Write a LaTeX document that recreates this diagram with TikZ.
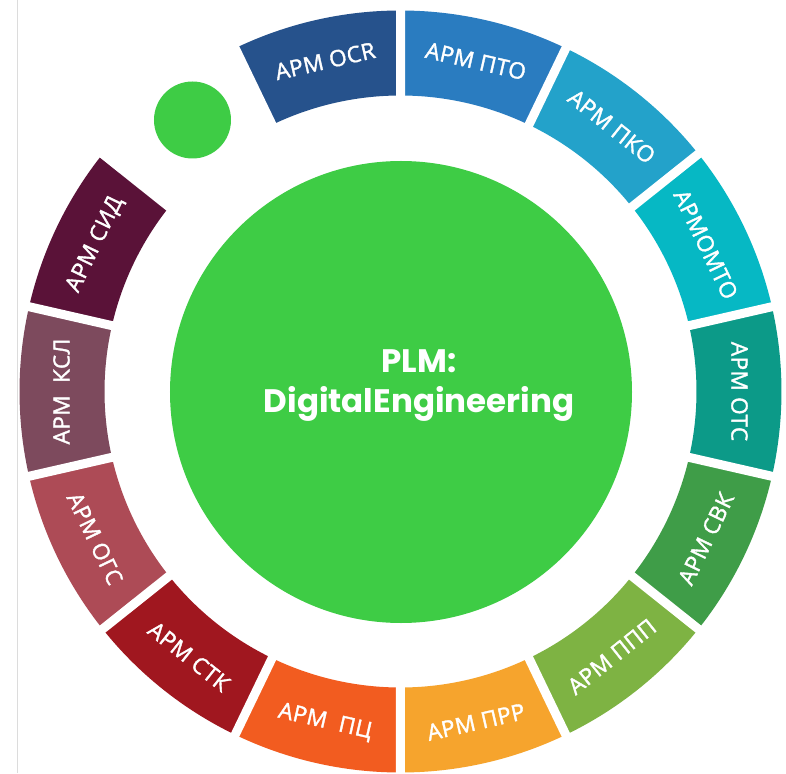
\documentclass[tikz,border=0pt]{standalone}
\usepackage{fontspec}
\setmainfont{Open Sans}
\newfontfamily\segfont[FakeBold=1.6,LetterSpace=2]{Open Sans}
\newfontfamily\titlefont{Poppins}

\definecolor{plmgreen}{HTML}{3ECC45}
\definecolor{cOCR}{HTML}{26528C}
\definecolor{cPTO}{HTML}{2A7CC0}
\definecolor{cPKO}{HTML}{23A2CA}
\definecolor{cOMTO}{HTML}{06B8C4}
\definecolor{cOTS}{HTML}{0C9A88}
\definecolor{cSVK}{HTML}{3F9D48}
\definecolor{cPPP}{HTML}{7EB343}
\definecolor{cPRR}{HTML}{F6A42D}
\definecolor{cPC}{HTML}{F25C20}
\definecolor{cSTK}{HTML}{A0171F}
\definecolor{cOGS}{HTML}{AD4B56}
\definecolor{cKSL}{HTML}{7D4A5D}
\definecolor{cSID}{HTML}{5A1238}
\definecolor{edgegray}{HTML}{DCDCDC}

\begin{document}
\begin{tikzpicture}[x=1pt,y=1pt,
  seglabel/.style={text=white, inner sep=0pt,
    font=\segfont\fontsize{22.5}{22.5}\selectfont},
  gapline/.style={white, line width=9pt},
  titletext/.style={text=white, inner sep=0pt, anchor=base,
    font=\titlefont\bfseries\fontsize{32.5}{32.5}\selectfont},
]
% page
\useasboundingbox (-400.5,-381.5) rectangle (385.5,391.5);
\fill[white] (-400.5,-381.5) rectangle (385.5,391.5);
\draw[edgegray, line width=1pt] (-383,-381.5) -- (-383,391.5);

\def\Rin{296}
\def\Rout{381}
\def\Rlab{339}
\def\half{12.857}

% ring of workstations: centre angle / colour / text rotation / label
\foreach \a/\col/\rot/\lab [count=\i] in {
    0/cOTS/-90/{АРМ ОТС},
    25.714/cOMTO/-64.286/{АРМОМТО},
    51.429/cPKO/-38.571/{АРМ ПКО},
    77.143/cPTO/-12.857/{АРМ ПТО},
    102.857/cOCR/12.857/{АРМ ОСR},
    154.286/cSID/64.286/{АРМ СИД},
    180/cKSL/90/{АРМ~~КСЛ},
    205.714/cOGS/-64.286/{АРМ ОГС},
    231.429/cSTK/-38.571/{АРМ СТК},
    257.143/cPC/-12.857/{АРМ~~ПЦ},
    282.857/cPRR/12.857/{АРМ ПРР},
    308.571/cPPP/38.571/{АРМ ППП},
    334.286/cSVK/64.286/{АРМ СВК}}{
  \fill[\col] (\a-\half:\Rin)
    arc[start angle=\a-\half, end angle=\a+\half, radius=\Rin]
    -- (\a+\half:\Rout)
    arc[start angle=\a+\half, end angle=\a-\half, radius=\Rout]
    -- cycle;
  \node[seglabel, rotate=\rot] (seg\i) at (\a:\Rlab) {\lab};
}

% white separators between the segments
\foreach \k in {0,...,13}{
  \draw[gapline] (\half+\k*25.714:\Rin-6) -- (\half+\k*25.714:\Rout+6);
}

% free slot marker
\fill[plmgreen] (-208,271.5) circle (38.5);

% hub
\fill[plmgreen] (0.5,-0.5) circle (231);
\node[titletext] (plm) at (18.5,18.5) {PLM:};
\node[titletext] (de) at (18.5,-20.5) {DigitalEngineering};
\end{tikzpicture}
\end{document}
